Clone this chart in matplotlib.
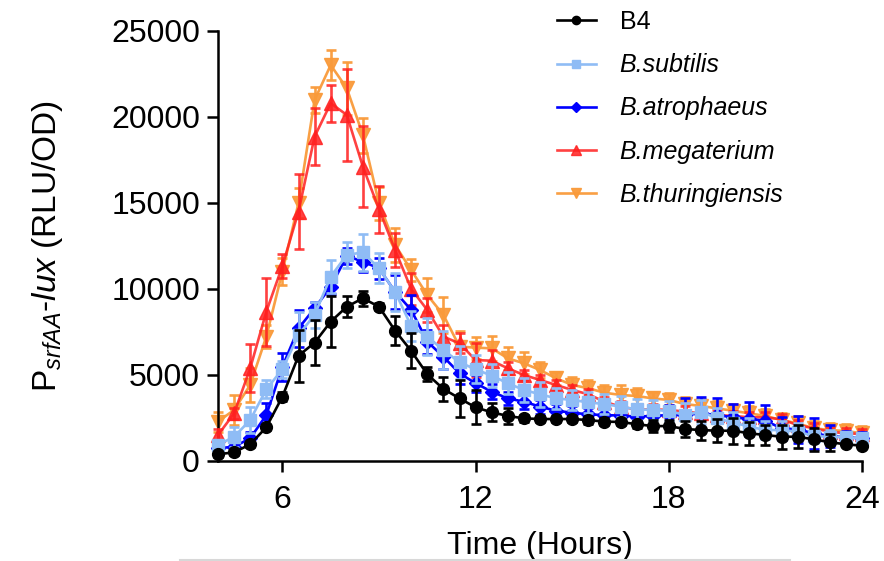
import matplotlib
matplotlib.use("Agg")
import matplotlib.pyplot as plt
from matplotlib.lines import Line2D

plt.rcParams['font.family'] = ['Liberation Sans', 'DejaVu Sans']
plt.rcParams['mathtext.fontset'] = 'custom'
plt.rcParams['mathtext.rm'] = 'Liberation Sans'
plt.rcParams['mathtext.it'] = 'Liberation Sans:italic'

# time points (hours)
hours = [4, 4.5, 5, 5.5, 6, 6.5, 7, 7.5, 8, 8.5, 9, 9.5, 10, 10.5, 11, 11.5, 12,
         12.5, 13, 13.5, 14, 14.5, 15, 15.5, 16, 16.5, 17, 17.5, 18, 18.5, 19,
         19.5, 20, 20.5, 21, 21.5, 22, 22.5, 23, 23.5, 24]

b4 = [390, 505, 970, 1960, 3740, 6120, 6880, 8100, 8970, 9460, 8970, 7580, 6400,
      5040, 4190, 3640, 3120, 2830, 2620, 2480, 2440, 2440, 2440, 2380, 2290, 2270,
      2140, 2030, 2030, 1860, 1800, 1760, 1760, 1610, 1510, 1410, 1410, 1260, 1090,
      970, 890]
b4_err = [150, 150, 150, 150, 250, 1500, 1300, 1500, 620, 450, 200, 860, 1020, 400,
          700, 1070, 990, 530, 440, 200, 200, 200, 200, 200, 200, 200, 200, 340, 340,
          480, 550, 670, 760, 680, 600, 700, 680, 650, 480, 100, 100]

subtilis = [930, 1410, 2380, 4170, 5330, 7330, 8490, 10720, 11980, 12130, 11200,
            9840, 7850, 7230, 6450, 5740, 5330, 4960, 4520, 4130, 3880, 3640, 3550,
            3410, 3310, 3160, 3000, 2970, 2910, 2670, 2870, 2480, 2230, 2000, 1800,
            1800, 1700, 1450, 1410, 1380, 1320]
subtilis_err = [290, 580, 780, 530, 480, 1360, 780, 970, 780, 1070, 870, 1110, 900,
                1070, 1110, 970, 820, 680, 630, 680, 730, 600, 600, 600, 600, 600,
                600, 600, 600, 700, 700, 600, 600, 500, 500, 500, 500, 400, 400, 300,
                300]

atrophaeus = [740, 830, 1320, 2670, 5480, 7710, 8880, 10130, 11920, 11590, 11200,
              9840, 8780, 6940, 6060, 5100, 4520, 4030, 3640, 3450, 3160, 2920, 2810,
              2710, 2670, 2640, 2580, 2620, 2670, 2670, 2770, 2670, 2540, 2440, 2340,
              1900, 1840, 1610, 1450, 1380, 1320]
atrophaeus_err = [200, 200, 390, 680, 820, 1070, 340, 400, 480, 580, 630, 1000, 870,
                  700, 700, 600, 500, 450, 400, 400, 400, 400, 400, 400, 400, 400,
                  400, 500, 600, 1000, 970, 970, 780, 970, 920, 660, 800, 890, 630,
                  340, 390]

megaterium = [1510, 2770, 5390, 8680, 11340, 14500, 18860, 20800, 20120, 17110,
              14640, 12270, 10000, 8780, 7230, 6840, 5870, 5830, 5390, 5000, 4710,
              4420, 4130, 3880, 3450, 3160, 2990, 3000, 2970, 2870, 2770, 2670, 2620,
              2540, 2540, 2420, 2090, 1900, 1700, 1610, 1570]
megaterium_err = [340, 340, 1400, 1980, 680, 2190, 1650, 1070, 2670, 2370, 1360, 970,
                  920, 680, 680, 580, 990, 630, 340, 300, 300, 300, 300, 300, 300,
                  300, 300, 300, 300, 300, 300, 300, 300, 300, 300, 300, 300, 300,
                  300, 300, 300]

thuringiensis = [2290, 2970, 4420, 7230, 11010, 15000, 20990, 23020, 21670, 18950,
                 14980, 12560, 11100, 9650, 8490, 6650, 6590, 6550, 5970, 5680, 5290,
                 4810, 4420, 4230, 3970, 3840, 3780, 3640, 3550, 3310, 3200, 3060,
                 2920, 2770, 2620, 2380, 2190, 1900, 1800, 1740, 1610]
thuringiensis_err = [580, 870, 970, 680, 780, 870, 780, 870, 1550, 1020, 970, 970,
                     620, 970, 1030, 910, 640, 730, 680, 640, 490, 390, 490, 490, 440,
                     550, 440, 400, 400, 400, 400, 400, 400, 400, 400, 400, 400, 400,
                     400, 400, 400]

labels = ['B4', 'B.subtilis', 'B.atrophaeus', 'B.megaterium', 'B.thuringiensis']
colors = ['#000000', '#8fbcf5', '#0000ff', '#ff2020', '#f99a3a']
alphas = [1, 1, 1, 0.85, 0.95]
markers = ['o', 's', 'D', '^', 'v']
msizes = [8.5, 8.5, 7, 9.5, 9.5]
series = [(b4, b4_err), (subtilis, subtilis_err), (atrophaeus, atrophaeus_err),
          (megaterium, megaterium_err), (thuringiensis, thuringiensis_err)]
zorders = [6, 5, 4, 3, 2]

fig = plt.figure(figsize=(8.84, 5.61), dpi=100)
ax = fig.add_axes([218 / 884, 100 / 561, 644 / 884, 430 / 561])

for (vals, errs), c, a, m, ms, z in zip(series, colors, alphas, markers, msizes, zorders):
    cont = ax.errorbar(hours, vals, yerr=errs, color=c, alpha=a, marker=m,
                       markersize=ms, linewidth=1.9, elinewidth=1.9, capsize=3.8,
                       capthick=1.9, zorder=z)
    for art in cont.get_children():
        art.set_clip_on(False)

ax.set_xlim(4, 24)
ax.set_ylim(0, 25000)
ax.set_xticks([6, 12, 18, 24])
ax.set_yticks([0, 5000, 10000, 15000, 20000, 25000])
ax.spines['top'].set_visible(False)
ax.spines['right'].set_visible(False)
ax.spines['left'].set_linewidth(1.8)
ax.spines['bottom'].set_linewidth(1.8)
ax.tick_params(axis='both', labelsize=23, width=1.8, length=8)
ax.tick_params(axis='x', pad=9)
ax.tick_params(axis='y', pad=5)

ax.set_xlabel('Time (Hours)', fontsize=23, labelpad=12)
ax.set_ylabel(r'P$_{\mathit{srfAA}}$-$\mathit{lux}$ (RLU/OD)', fontsize=24, labelpad=33)

handles = [Line2D([], [], color=c, alpha=a, marker=m, markersize=ms * 0.7,
                  linewidth=1.9)
           for c, a, m, ms in zip(colors, alphas, markers, msizes)]
leg = fig.legend(handles, labels, loc='upper left', bbox_to_anchor=(547 / 884, 1.0),
                 frameon=False, fontsize=18, handlelength=1.55, handletextpad=0.95,
                 labelspacing=0.77, borderaxespad=0.0)
for t in leg.get_texts()[1:]:
    t.set_fontstyle('italic')

# light grey table border left under the chart in the screenshot
fig.add_artist(Line2D([180 / 884, 790 / 884], [1.5 / 561, 1.5 / 561],
                      color='#d8d8d8', linewidth=1.5))

fig.savefig('out.png', dpi=100)
